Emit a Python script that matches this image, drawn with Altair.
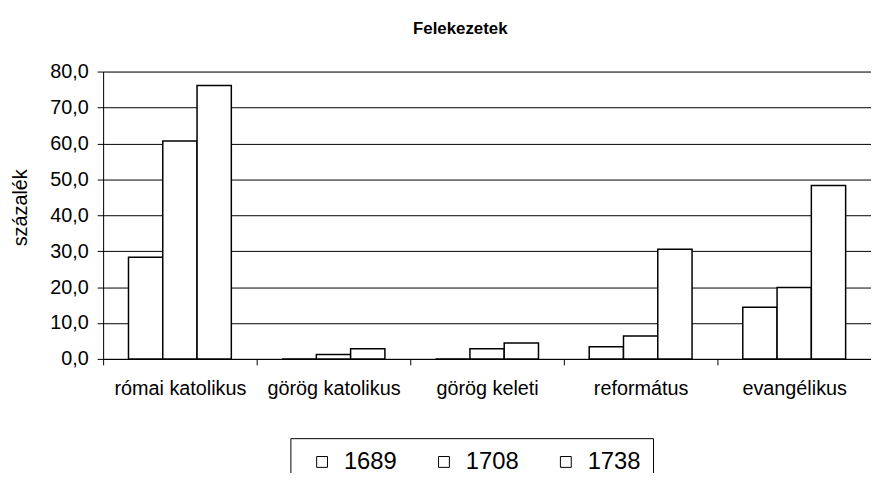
import altair as alt
import pandas as pd

categories = ["római katolikus", "görög katolikus", "görög keleti", "református", "evangélikus"]
years = ["1689", "1708", "1738"]
v1689 = [28.3, 0.0, 0.0, 3.4, 14.4]
v1708 = [60.7, 1.2, 2.8, 6.4, 19.9]
v1738 = [76.1, 2.8, 4.4, 30.5, 48.3]
y_ticks = [0, 10, 20, 30, 40, 50, 60, 70, 80]

rows = []
for yr, vals in zip(years, [v1689, v1708, v1738]):
    for c, v in zip(categories, vals):
        rows.append({"felekezet": c, "ev": yr, "szazalek": v})
df = pd.DataFrame(rows)

FONT = "Liberation Sans"

chart = alt.Chart(df).mark_bar(stroke="black", strokeWidth=1.5).encode(
    x=alt.X("felekezet:N", sort=categories, title=None,
            scale=alt.Scale(paddingInner=0, paddingOuter=0),
            axis=alt.Axis(labelAngle=0, labelFontSize=20, labelFont=FONT, labelColor="black",
                          labelPadding=14, tickBand="extent", tickSize=6, tickColor="black",
                          domainColor="black", grid=False, labelLimit=200)),
    xOffset=alt.XOffset("ev:N", sort=years, scale=alt.Scale(paddingInner=0, paddingOuter=0.74)),
    y=alt.Y("szazalek:Q", title="százalék",
            scale=alt.Scale(domain=[0, 80], nice=False),
            axis=alt.Axis(values=y_ticks,
                          labelExpr="replace(format(datum.value, '.1f'), '.', ',')",
                          labelFontSize=20, labelFont=FONT, labelColor="black", labelPadding=9,
                          tickSize=6, tickColor="black", domainColor="black",
                          gridColor="black", gridWidth=1, gridOpacity=1,
                          titleFontSize=20, titleFont=FONT, titleFontWeight="normal",
                          titleColor="black", titleX=-83, titleY=137, titleAngle=270,
                          titleAlign="center", titleBaseline="middle")),
    color=alt.Color("ev:N", sort=years, title=None,
                    scale=alt.Scale(domain=years, range=["white", "white", "white"]),
                    legend=alt.Legend(orient="none", legendX=189, legendY=370,
                                      direction="horizontal", columns=3,
                                      strokeColor="black", fillColor="white", padding=12,
                                      symbolType="square", symbolSize=120,
                                      symbolFillColor="white", symbolStrokeColor="black",
                                      symbolStrokeWidth=1, symbolOffset=8,
                                      labelOffset=10, columnPadding=27,
                                      labelFontSize=24, labelFont=FONT, labelColor="black")),
).properties(
    width=775,
    height=290,
    autosize=alt.AutoSizeParams(type="none"),
    padding={"left": 96, "top": 62, "right": 0, "bottom": 113},
    title=alt.Title("Felekezetek", fontSize=17, font=FONT, fontWeight="bold", color="black",
                    anchor="middle", dx=-27, offset=24),
).configure_view(strokeWidth=0).configure(background="white")

chart.save("out.html", embed_options={"renderer": "svg", "actions": False})
